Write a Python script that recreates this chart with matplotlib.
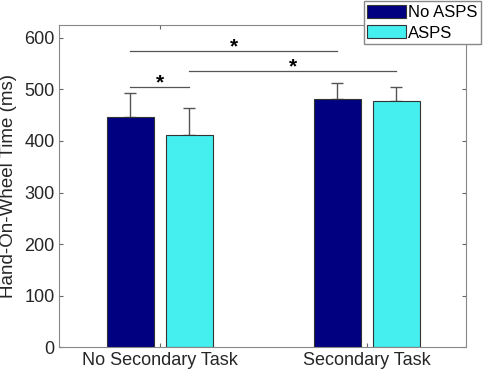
import numpy as np
import matplotlib
matplotlib.use('Agg')
import matplotlib.pyplot as plt

plt.rcParams['font.family'] = ['Liberation Sans', 'DejaVu Sans']

# data
groups = ['No Secondary Task', 'Secondary Task']
series = ['No ASPS', 'ASPS']
means_no_asps = [447, 482]
means_asps = [412, 478]
err_no_asps = [46, 31]
err_asps = [52, 27]
yticks = [0, 100, 200, 300, 400, 500, 600]

# significance brackets: (group idx a, series a, group idx b, series b, y)
sig_pairs = [(0, 0, 1, 0, 574), (0, 1, 1, 1, 535), (0, 0, 0, 1, 505)]

navy = '#000080'
cyan = '#46EFEF'

fig = plt.figure(figsize=(4.84, 3.77), dpi=100)
ax = fig.add_axes([0.1229, 0.0788, 0.8399, 0.855])

x = np.arange(1, len(groups) + 1)
off = 0.143
w = 0.228
pos = [x - off, x + off]

ax.bar(pos[0], means_no_asps, w, color=navy, edgecolor='#333333', linewidth=0.8, label=series[0], zorder=2)
ax.bar(pos[1], means_asps, w, color=cyan, edgecolor='#333333', linewidth=0.8, label=series[1], zorder=2)
ax.errorbar(pos[0], means_no_asps, yerr=[np.zeros(2), err_no_asps], fmt='none', ecolor='#555555',
            elinewidth=1.0, capsize=4, capthick=1.0, zorder=1)
ax.errorbar(pos[1], means_asps, yerr=[np.zeros(2), err_asps], fmt='none', ecolor='#555555',
            elinewidth=1.0, capsize=4, capthick=1.0, zorder=1)

for ga, sa, gb, sb, y in sig_pairs:
    xa = pos[sa][ga]
    xb = pos[sb][gb]
    ax.plot([xa, xb], [y, y], color='#555555', lw=0.9)
    ax.text((xa + xb) / 2, y - 10, '*', ha='center', va='bottom', fontsize=15, fontweight='bold', color='black')

ax.set_xlim(0.515, 2.48)
ax.set_ylim(0, 625)
ax.set_yticks(yticks)
ax.set_xticks(x)
ax.set_xticklabels(groups)
ax.set_ylabel('Hand-On-Wheel Time (ms)', fontsize=13.5, color='#262626', labelpad=5)
ax.tick_params(direction='in', top=True, right=True, labelsize=13, colors='#262626', length=3)
ax.tick_params(color='#666666')
for s in ax.spines.values():
    s.set_color('#888888')
    s.set_linewidth(0.8)

fig.legend(loc='upper right', bbox_to_anchor=(480.7 / 484, 1 - 1 / 377), fontsize=12,
           frameon=True, fancybox=False, edgecolor='#888888', framealpha=1,
           handlelength=2.3, handleheight=0.85, handletextpad=0.12, labelspacing=0.3,
           borderpad=0.22, borderaxespad=0)

fig.savefig('out.png', dpi=100, facecolor='white')
